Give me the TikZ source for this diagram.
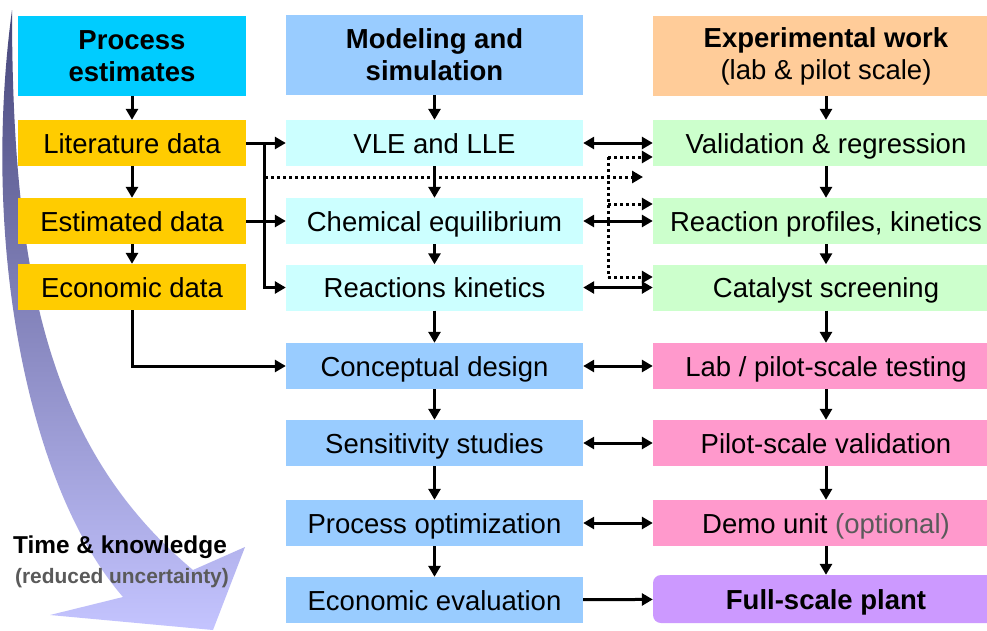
\documentclass[tikz,border=0pt]{standalone}
\usepackage{fontspec}
\setmainfont{Liberation Sans}
\usetikzlibrary{arrows.meta,positioning}

\definecolor{hdcyan}{HTML}{00CCFF}
\definecolor{hdblue}{HTML}{99CCFF}
\definecolor{hdorange}{HTML}{FFCC99}
\definecolor{datayel}{HTML}{FFCC00}
\definecolor{simcyan}{HTML}{CCFFFF}
\definecolor{expgreen}{HTML}{CCFFCC}
\definecolor{exppink}{HTML}{FF99CC}
\definecolor{plantpur}{HTML}{CC99FF}
\definecolor{arrtop}{HTML}{46467A}
\definecolor{arrbot}{HTML}{C4C4FF}
\definecolor{notegray}{HTML}{5A5A5A}

\begin{document}
\begin{tikzpicture}[x=1pt,y=1pt,yscale=-1,
  hd/.style={inner sep=0pt,minimum height=80pt,align=center,font=\fontsize{27.5}{32}\selectfont},
  box/.style={inner sep=0pt,minimum height=46pt,text height=20pt,text depth=0pt,font=\fontsize{27.5}{32}\selectfont},
  colA/.style={minimum width=228pt},
  colB/.style={minimum width=297pt},
  colC/.style={minimum width=346pt},
  arr/.style={line width=3pt,-{Triangle[length=11pt,width=12pt]}},
  darr/.style={line width=3pt,{Triangle[length=11pt,width=12pt]}-{Triangle[length=11pt,width=12pt]}},
  dotline/.style={line width=3pt,dash pattern=on 3pt off 3pt},
  dotarr/.style={dotline,-{Triangle[length=11pt,width=12pt]}}]
\useasboundingbox (0,0) rectangle (987,630);
\fill[white] (0,0) rectangle (987,630);

%Shape: time arrow
\shade[top color=arrtop,bottom color=arrbot]
  (12,10) .. controls (-20,250) and (30,490) .. (123,597)
  -- (50,615) -- (213,630) -- (245,547) -- (193,570)
  .. controls (50,450) and (12,280) .. (12,10) -- cycle;

% Column: process estimates
\node[hd,colA,fill=hdcyan,font=\fontsize{27.5}{32}\selectfont\bfseries] (hproc) at (132,56) {Process\\estimates};
\node[box,colA,fill=datayel] (lit) at (132,143) {Literature data};
\node[box,colA,fill=datayel] (est) at (132,221) {Estimated data};
\node[box,colA,fill=datayel] (econ) at (132,287) {Economic data};

% Column: modeling and simulation
\node[hd,colB,fill=hdblue,font=\fontsize{27.5}{32}\selectfont\bfseries] (hmod) at (434.5,55) {Modeling and\\simulation};
\node[box,colB,fill=simcyan] (vle) at (434.5,143) {VLE and LLE};
\node[box,colB,fill=simcyan] (chem) at (434.5,221) {Chemical equilibrium};
\node[box,colB,fill=simcyan] (reac) at (434.5,287.5) {Reactions kinetics};
\node[box,colB,fill=hdblue] (concept) at (434.5,366) {Conceptual design};
\node[box,colB,fill=hdblue] (sens) at (434.5,443) {Sensitivity studies};
\node[box,colB,fill=hdblue] (opt) at (434.5,523) {Process optimization};
\node[box,colB,fill=hdblue] (eval) at (434.5,600) {Economic evaluation};

% Column: experimental work
\node[hd,colC,fill=hdorange] (hexp) at (826,56) {\textbf{Experimental work}\\(lab \& pilot scale)};
\node[box,colC,fill=expgreen] (valid) at (826,143) {Validation \& regression};
\node[box,colC,fill=expgreen] (prof) at (826,221) {Reaction profiles, kinetics};
\node[box,colC,fill=expgreen] (cat) at (826,287.5) {Catalyst screening};
\node[box,colC,fill=exppink] (lab) at (826,366) {Lab / pilot-scale testing};
\node[box,colC,fill=exppink] (pilot) at (826,443) {Pilot-scale validation};
\node[box,colC,fill=exppink] (demo) at (826,523) {Demo unit \textcolor{notegray}{(optional)}};
\node[box,colC,fill=plantpur,rounded corners=8pt,minimum height=48pt,font=\fontsize{27.5}{32}\selectfont\bfseries] (plant) at (826,599) {Full-scale plant};

% vertical flow
\draw[arr] (hproc) -- (lit);
\draw[arr] (lit) -- (est);
\draw[arr] (est) -- (econ);
\draw[arr] (hmod) -- (vle);
\draw[arr] (vle) -- (chem);
\draw[arr] (chem) -- (reac);
\draw[arr] (reac) -- (concept);
\draw[arr] (concept) -- (sens);
\draw[arr] (sens) -- (opt);
\draw[arr] (opt) -- (eval);
\draw[arr] (hexp) -- (valid);
\draw[arr] (valid) -- (prof);
\draw[arr] (prof) -- (cat);
\draw[arr] (cat) -- (lab);
\draw[arr] (lab) -- (pilot);
\draw[arr] (pilot) -- (demo);
\draw[arr] (demo) -- (plant);

% data into models
\draw[arr] (lit) -- (vle);
\draw[arr] (est) -- (chem);
\draw[arr] (lit.east) -| ([xshift=-21pt]reac.west) -- (reac.west);
\draw[arr] (econ.south) |- (concept.west);

% dotted links
\coordinate (busdot) at (265,177);
\coordinate (dotend) at (643,177);
\coordinate (ftop) at (608,157);
\coordinate (fmid) at (608,204);
\coordinate (fbot) at (608,277);
\draw[dotarr] (busdot) -- (dotend);
\draw[dotline] (ftop) -- (fbot);
\draw[dotarr] (ftop) -- (ftop -| valid.west);
\draw[dotarr] (fmid) -- (fmid -| prof.west);
\draw[dotarr] (fbot) -- (fbot -| cat.west);

% models <-> experiments
\draw[darr] (vle) -- (valid);
\draw[darr] (chem) -- (prof);
\draw[darr] (reac) -- (cat);
\draw[darr] (concept) -- (lab);
\draw[darr] (sens) -- (pilot);
\draw[darr] (opt) -- (demo);
\draw[arr] (eval) -- (plant);

% Text Node
\node[font=\fontsize{24.4}{28}\selectfont\bfseries] (time) at (120,547) {Time \& knowledge};
\node[font=\fontsize{20.9}{24}\selectfont\bfseries,text=notegray] (unc) at (122,578) {(reduced uncertainty)};
\end{tikzpicture}
\end{document}
